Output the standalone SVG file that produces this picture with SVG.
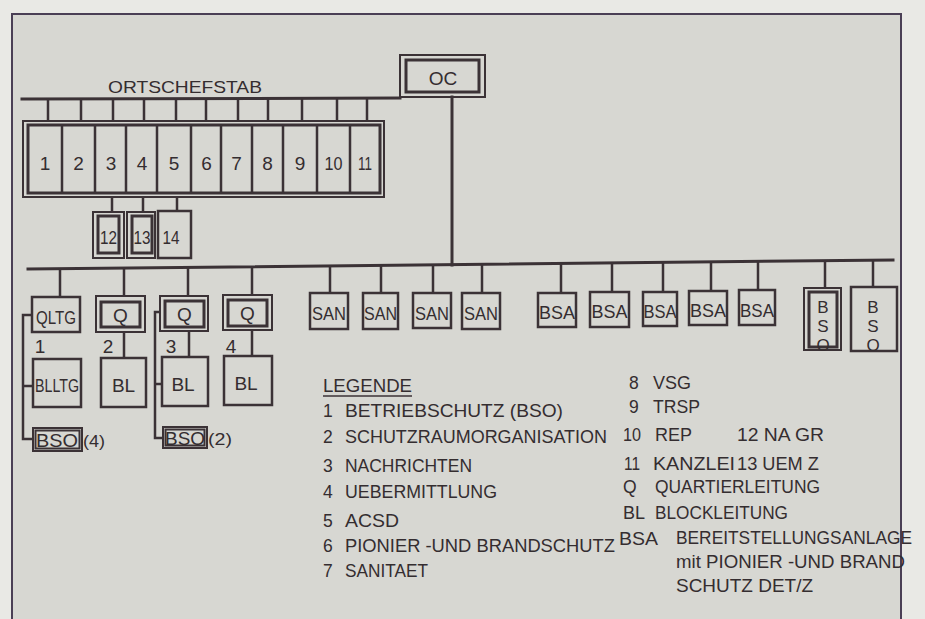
<svg xmlns="http://www.w3.org/2000/svg" width="925" height="619" viewBox="0 0 925 619">
<style>
.ln{stroke:#3b3236;stroke-width:3;fill:none;stroke-linecap:square}
.th{stroke:#3b3236;stroke-width:2.5;fill:none}
.bx{stroke:#3b3236;stroke-width:2.5;fill:none}
.o2{stroke:#3b3236;stroke-width:2;fill:none}
.i3{stroke:#3b3236;stroke-width:3;fill:none}
text{font-family:"Liberation Sans",Arial,sans-serif;fill:#342d30}
.n{font-size:19px;text-anchor:middle}
.b{font-size:19px;text-anchor:middle}
.v{font-size:17px;writing-mode:vertical-rl;text-orientation:upright}
.lg{font-size:17.5px}
</style>
<rect x="0" y="0" width="925" height="619" fill="#e9e9e5"/>
<rect x="12" y="14" width="889" height="630" fill="#d7d7d2" stroke="#4a3f55" stroke-width="2"/>

<g id="connectors">
  <line class="ln" x1="22" y1="99" x2="400" y2="98"/>
  <path class="th" d="M48,99V121M81,99V121M113,99V121M144,99V121M176,99V121M206,99V121M238,99V121M268,99V121M302,99V121M337,99V121M367,99V121"/>
  <path class="th" d="M112,197V212M143,197V212M177,197V211"/>
  <line class="ln" x1="452" y1="97" x2="452" y2="265"/>
  <line class="ln" x1="28" y1="269" x2="893" y2="260"/>
  <path class="th" d="M60,269V297M124,268V296M188,267V296M252,267V295M330,266V293M381,265V293M433,265V293M482,264V293M561,263V292M612,263V292M663,262V292M711,262V291M758,261V290M825,261V288M873,260V287"/>
  <path class="th" d="M124,332V358M189,331V357M252,330V356"/>
  <path class="th" d="M32,315H23V439H33M23,386H33"/>
  <path class="th" d="M160,312H155V438H163M155,384H162"/>
</g>

<g id="label-ortschefstab"><text x="108" y="93" font-size="17" textLength="154" lengthAdjust="spacingAndGlyphs">ORTSCHEFSTAB</text></g>

<g id="oc">
  <rect class="o2" x="400" y="55" width="85" height="42"/>
  <rect class="i3" x="406" y="60" width="73" height="32"/>
  <text class="n" x="443" y="85" font-size="18">OC</text>
</g>

<g id="staff">
  <rect class="o2" x="23" y="121" width="361" height="76"/>
  <rect class="i3" x="28" y="125" width="352" height="68"/>
  <path class="th" d="M62,125V193M95,125V193M126,125V193M157,125V193M191,125V193M221,125V193M252,125V193M283,125V193M317,125V193M350,125V193"/>
  <text class="n" x="45" y="170">1</text>
  <text class="n" x="78.5" y="170">2</text>
  <text class="n" x="111" y="170">3</text>
  <text class="n" x="142" y="170">4</text>
  <text class="n" x="174" y="170">5</text>
  <text class="n" x="206.5" y="170">6</text>
  <text class="n" x="236.5" y="170">7</text>
  <text class="n" x="267.5" y="170">8</text>
  <text class="n" x="300" y="170">9</text>
  <text class="n" x="333.5" y="170" textLength="18" lengthAdjust="spacingAndGlyphs">10</text>
  <text class="n" x="365" y="170" textLength="14" lengthAdjust="spacingAndGlyphs">11</text>
</g>

<g id="n12">
  <rect class="o2" x="93" y="212" width="31" height="46"/>
  <rect class="i3" x="98" y="216" width="21" height="37"/>
  <text class="n" x="108.5" y="244" font-size="17" textLength="17" lengthAdjust="spacingAndGlyphs">12</text>
</g>
<g id="n13">
  <rect class="o2" x="127" y="212" width="28" height="46"/>
  <rect class="i3" x="132" y="216" width="20" height="37"/>
  <text class="n" x="142" y="244" font-size="17" textLength="17" lengthAdjust="spacingAndGlyphs">13</text>
</g>
<g id="n14">
  <rect class="bx" x="158" y="211" width="33" height="47"/>
  <text class="n" x="171" y="244" font-size="17" textLength="17" lengthAdjust="spacingAndGlyphs">14</text>
</g>

<g id="qltg">
  <rect class="bx" x="32" y="297" width="48" height="35"/>
  <text class="b" x="56" y="324" font-size="18" textLength="40" lengthAdjust="spacingAndGlyphs">QLTG</text>
  <text class="n" x="40" y="353" font-size="17">1</text>
</g>
<g id="q2">
  <rect class="o2" x="96" y="296" width="49" height="36"/>
  <rect class="i3" x="101" y="302" width="39" height="25"/>
  <text class="b" x="120.5" y="322" font-size="18">Q</text>
  <text class="n" x="108" y="353" font-size="17">2</text>
</g>
<g id="q3">
  <rect class="o2" x="160" y="296" width="48" height="35"/>
  <rect class="i3" x="165" y="301" width="39" height="26"/>
  <text class="b" x="184.5" y="321" font-size="18">Q</text>
  <text class="n" x="171" y="353" font-size="17">3</text>
</g>
<g id="q4">
  <rect class="o2" x="223" y="295" width="49" height="35"/>
  <rect class="i3" x="228" y="300" width="39" height="26"/>
  <text class="b" x="247.5" y="320" font-size="18">Q</text>
  <text class="n" x="231" y="353" font-size="17">4</text>
</g>

<g id="blltg">
  <rect class="bx" x="33" y="359" width="48" height="48"/>
  <text class="b" x="57" y="392" font-size="18" textLength="44" lengthAdjust="spacingAndGlyphs">BLLTG</text>
</g>
<g id="bl2">
  <rect class="bx" x="101" y="358" width="45" height="49"/>
  <text class="b" x="123.5" y="392" font-size="18">BL</text>
</g>
<g id="bl3">
  <rect class="bx" x="162" y="357" width="46" height="49"/>
  <text class="b" x="183" y="391" font-size="18">BL</text>
</g>
<g id="bl4">
  <rect class="bx" x="224" y="356" width="48" height="49"/>
  <text class="b" x="246" y="390" font-size="18">BL</text>
</g>

<g id="bso4">
  <rect class="o2" x="33" y="428" width="49" height="23"/>
  <rect class="o2" x="35.5" y="430.5" width="44" height="18"/>
  <text class="b" x="57" y="447" font-size="18" textLength="42" lengthAdjust="spacingAndGlyphs">BSO</text>
  <text x="83" y="447" font-size="17" textLength="22" lengthAdjust="spacingAndGlyphs">(4)</text>
</g>
<g id="bso2">
  <rect class="o2" x="163" y="427" width="44" height="21"/>
  <rect class="o2" x="165.5" y="429.5" width="39" height="16"/>
  <text class="b" x="185" y="445" font-size="18" textLength="40" lengthAdjust="spacingAndGlyphs">BSO</text>
  <text x="208" y="445" font-size="17" textLength="24" lengthAdjust="spacingAndGlyphs">(2)</text>
</g>

<g id="san1"><rect class="bx" x="310" y="293" width="38" height="36"/><text class="b" x="329" y="320" font-size="20" textLength="34" lengthAdjust="spacingAndGlyphs">SAN</text></g>
<g id="san2"><rect class="bx" x="363" y="293" width="35" height="36"/><text class="b" x="380.5" y="320" font-size="20" textLength="33" lengthAdjust="spacingAndGlyphs">SAN</text></g>
<g id="san3"><rect class="bx" x="413" y="293" width="38" height="35"/><text class="b" x="432" y="320" font-size="20" textLength="34" lengthAdjust="spacingAndGlyphs">SAN</text></g>
<g id="san4"><rect class="bx" x="462" y="293" width="38" height="36"/><text class="b" x="481" y="320" font-size="20" textLength="34" lengthAdjust="spacingAndGlyphs">SAN</text></g>

<g id="bsa1"><rect class="bx" x="538" y="293" width="38" height="34"/><text class="b" x="557" y="319" font-size="20" textLength="36" lengthAdjust="spacingAndGlyphs">BSA</text></g>
<g id="bsa2"><rect class="bx" x="590" y="292" width="39" height="35"/><text class="b" x="609.5" y="318" font-size="20" textLength="36" lengthAdjust="spacingAndGlyphs">BSA</text></g>
<g id="bsa3"><rect class="bx" x="643" y="292" width="34" height="34"/><text class="b" x="660" y="318" font-size="20" textLength="33" lengthAdjust="spacingAndGlyphs">BSA</text></g>
<g id="bsa4"><rect class="bx" x="689" y="291" width="38" height="34"/><text class="b" x="708" y="317" font-size="20" textLength="36" lengthAdjust="spacingAndGlyphs">BSA</text></g>
<g id="bsa5"><rect class="bx" x="739" y="290" width="36" height="35"/><text class="b" x="757" y="317" font-size="20" textLength="34" lengthAdjust="spacingAndGlyphs">BSA</text></g>

<g id="bso-a">
  <rect class="o2" x="804" y="288" width="37" height="62"/>
  <rect class="i3" x="809" y="292" width="28" height="55"/>
  <text class="v" x="823" y="298">BSO</text>
</g>
<g id="bso-b">
  <rect class="bx" x="851" y="287" width="46" height="64"/>
  <text class="v" x="873" y="298">BSO</text>
</g>

<g id="legend" class="lg">
  <text x="323" y="392" textLength="89" lengthAdjust="spacingAndGlyphs">LEGENDE</text>
  <line x1="323" y1="396" x2="412" y2="396" stroke="#3b3236" stroke-width="1.5"/>
  <text x="323" y="417">1</text><text x="345" y="417" textLength="218" lengthAdjust="spacingAndGlyphs">BETRIEBSCHUTZ  (BSO)</text>
  <text x="323" y="443">2</text><text x="345" y="443" textLength="262" lengthAdjust="spacingAndGlyphs">SCHUTZRAUMORGANISATION</text>
  <text x="323" y="472">3</text><text x="345" y="472" textLength="127" lengthAdjust="spacingAndGlyphs">NACHRICHTEN</text>
  <text x="323" y="498">4</text><text x="345" y="498" textLength="152" lengthAdjust="spacingAndGlyphs">UEBERMITTLUNG</text>
  <text x="323" y="527">5</text><text x="345" y="527" textLength="54" lengthAdjust="spacingAndGlyphs">ACSD</text>
  <text x="323" y="552">6</text><text x="345" y="552" textLength="270" lengthAdjust="spacingAndGlyphs">PIONIER -UND BRANDSCHUTZ</text>
  <text x="323" y="577">7</text><text x="345" y="577" textLength="83" lengthAdjust="spacingAndGlyphs">SANITAET</text>

  <text x="629" y="389">8</text><text x="653" y="389" textLength="38" lengthAdjust="spacingAndGlyphs">VSG</text>
  <text x="629" y="413">9</text><text x="653" y="413" textLength="47" lengthAdjust="spacingAndGlyphs">TRSP</text>
  <text x="623" y="441" textLength="18" lengthAdjust="spacingAndGlyphs">10</text><text x="655" y="441" textLength="37" lengthAdjust="spacingAndGlyphs">REP</text>
  <text x="737" y="441" textLength="87" lengthAdjust="spacingAndGlyphs">12 NA  GR</text>
  <text x="624" y="470" textLength="16" lengthAdjust="spacingAndGlyphs">11</text><text x="653" y="470" textLength="82" lengthAdjust="spacingAndGlyphs">KANZLEI</text>
  <text x="737" y="470" textLength="82" lengthAdjust="spacingAndGlyphs">13 UEM  Z</text>
  <text x="623" y="493">Q</text><text x="655" y="493" textLength="165" lengthAdjust="spacingAndGlyphs">QUARTIERLEITUNG</text>
  <text x="623" y="519" textLength="22" lengthAdjust="spacingAndGlyphs">BL</text><text x="655" y="519" textLength="133" lengthAdjust="spacingAndGlyphs">BLOCKLEITUNG</text>
  <text x="619" y="545" textLength="39" lengthAdjust="spacingAndGlyphs">BSA</text><text x="676" y="544" textLength="236" lengthAdjust="spacingAndGlyphs">BEREITSTELLUNGSANLAGE</text>
  <text x="676" y="568" textLength="229" lengthAdjust="spacingAndGlyphs">mit  PIONIER -UND BRAND</text>
  <text x="676" y="592" textLength="137" lengthAdjust="spacingAndGlyphs">SCHUTZ DET/Z</text>
</g>
</svg>
